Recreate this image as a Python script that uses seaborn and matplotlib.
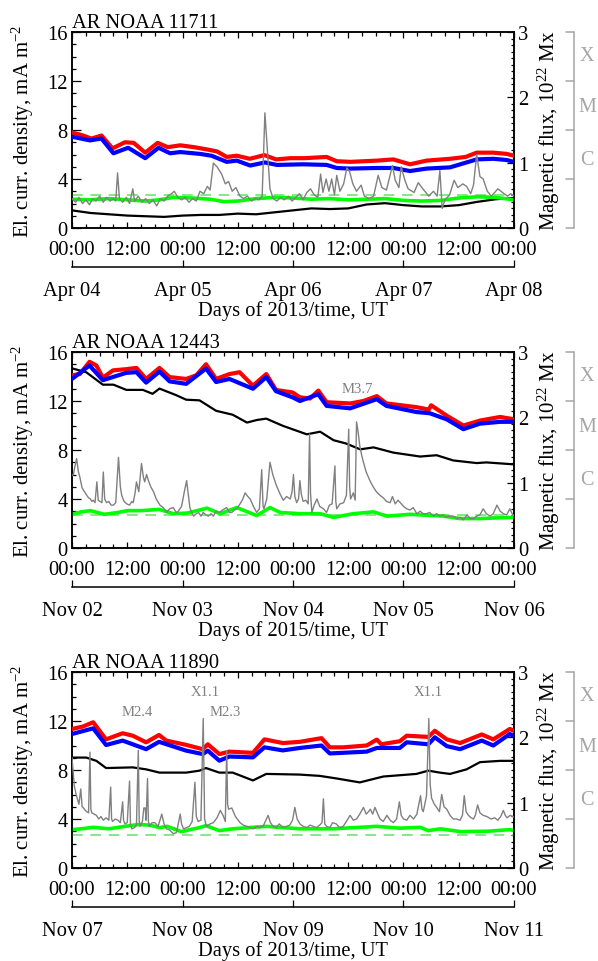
import matplotlib
matplotlib.use("Agg")
import matplotlib.pyplot as plt
import matplotlib.transforms as mtransforms
from matplotlib.ticker import MultipleLocator, FixedLocator
import pandas as pd
import seaborn as sns

# ---------------- common axis data ----------------
HOUR_TICKS = [0, 12, 24, 36, 48, 60, 72, 84, 96]
HOUR_LABELS = ["00:00", "12:00", "00:00", "12:00", "00:00", "12:00", "00:00", "12:00", "00:00"]
DAY_TICKS = [0, 24, 48, 72, 96]
GOES_LEVELS = [0, 4, 8, 12, 16]
GOES_CLASSES = ["C", "M", "X"]

# ---------------- panel 1 : AR NOAA 11711 ----------------
p1_title = "AR NOAA 11711"
p1_days = ["Apr 04", "Apr 05", "Apr 06", "Apr 07", "Apr 08"]
p1_year = "2013"
p1_red_t = [0, 2.4, 4.2, 6.4, 8.8, 11.5, 13.4, 15.9, 18.6, 20.8, 23.5, 26.5, 29.5, 31.5, 33.6, 35.8, 38.6,
            41.8, 44.3, 47.5, 50.5, 55.3, 57.5, 60.5, 66.2, 69.8, 73.4, 77.0, 82.1, 85.5, 87.9, 91.5, 94.4, 96]
p1_red = [7.8, 7.55, 7.3, 7.55, 6.5, 7.0, 6.95, 6.15, 6.95, 6.6, 6.75, 6.6, 6.4, 6.25, 5.8, 5.9, 5.65,
          5.95, 5.6, 5.7, 5.7, 5.8, 5.45, 5.4, 5.5, 5.6, 5.2, 5.5, 5.65, 5.8, 6.15, 6.15, 6.05, 5.9]
p1_blue_t = [0, 3.9, 6.4, 9.0, 12.2, 15.9, 18.8, 21.3, 23.5, 27.8, 30.3, 33.6, 35.8, 38.7, 41.9, 44.5,
             50.2, 55.3, 57.5, 60.4, 66.2, 69.8, 73.4, 77.0, 82.1, 87.9, 91.5, 94.4, 96]
p1_blue = [7.45, 7.15, 7.3, 6.1, 6.55, 5.7, 6.55, 6.1, 6.2, 6.05, 5.9, 5.4, 5.5, 5.1, 5.35, 5.15,
           5.2, 5.15, 4.9, 4.85, 4.9, 4.9, 4.65, 4.85, 4.95, 5.6, 5.65, 5.55, 5.4]
p1_green_t = [0, 4, 8, 12, 16, 19, 22, 26, 30, 33, 36, 40, 44, 48, 52, 56, 60, 64, 68, 72, 76, 80, 84, 88, 92, 96]
p1_green = [2.35, 2.3, 2.4, 2.3, 2.2, 2.3, 2.5, 2.45, 2.35, 2.15, 2.2, 2.4, 2.5, 2.45, 2.35, 2.4, 2.3,
            2.35, 2.4, 2.25, 2.2, 2.25, 2.45, 2.55, 2.5, 2.3]
p1_threshold = 2.7
p1_flux_t = [0, 4, 8, 12, 16, 20, 24, 28, 32, 36, 40, 44, 48, 52, 56, 60, 64, 68, 72, 76, 80, 84, 88, 92, 96]
p1_flux = [0.27, 0.23, 0.21, 0.19, 0.18, 0.17, 0.19, 0.2, 0.2, 0.22, 0.21, 0.24, 0.27, 0.3, 0.29, 0.3,
           0.36, 0.38, 0.35, 0.33, 0.33, 0.35, 0.4, 0.44, 0.46]
p1_goes_t = [0, 0.8, 1.5, 2.3, 3.0, 3.8, 4.5, 5.2, 6.0, 6.8, 7.5, 8.3, 9.0, 9.5, 9.9, 10.3, 11.0, 11.8, 12.5,
             13.2, 13.6, 14.4, 15.2, 16.0, 16.8, 17.6, 18.4, 19.2, 20.0, 20.8, 21.6, 22.2, 23.0, 23.8, 24.6,
             25.4, 26.2, 27.0, 27.8, 28.6, 29.4, 30.0, 30.7, 31.5, 32.5, 33.3, 34.0, 34.8, 35.6, 36.5, 37.3,
             38.1, 39.0, 39.8, 40.6, 41.3, 41.9, 42.5, 43.0, 43.7, 44.5, 45.3, 46.1, 47.0, 47.8, 48.6, 49.4,
             50.2, 51.0, 51.8, 52.6, 53.4, 54.0, 54.5, 55.2, 55.8, 56.4, 57.0, 57.5, 58.2, 59.0, 59.7, 60.3,
             61.0, 61.8, 62.8, 63.5, 64.5, 65.5, 66.5, 67.3, 68.3, 69.6, 70.2, 71.0, 71.5, 72.3, 73.0, 74.3,
             75.2, 76.2, 77.5, 78.5, 79.3, 79.9, 80.4, 81.0, 82.0, 83.0, 83.8, 84.9, 85.7, 86.6, 87.2, 87.9,
             88.6, 89.3, 90.2, 91.1, 92.5, 93.5, 94.6, 95.3, 96.0]
p1_goes = [2.4, 2.1, 2.5, 2.0, 2.3, 1.9, 2.4, 2.2, 2.6, 2.1, 2.5, 2.2, 2.4, 2.2, 4.5, 2.4, 2.1, 2.5, 2.0,
           3.2, 2.2, 2.6, 2.1, 2.4, 2.0, 2.3, 1.8, 2.4, 2.2, 2.6, 2.8, 3.0, 2.5, 2.3, 2.5,
           2.1, 2.4, 2.2, 3.0, 2.8, 3.4, 3.1, 5.3, 5.0, 4.4, 3.6, 3.8, 3.0, 3.3, 2.6, 2.4,
           2.6, 2.2, 2.4, 2.3, 2.6, 9.4, 6.0, 3.2, 2.4, 2.2, 2.5, 2.3, 2.6, 2.2, 2.5, 2.8,
           2.3, 2.9, 3.2, 2.7, 2.5, 4.4, 2.9, 4.0, 3.0, 4.0, 2.7, 4.3, 3.0, 3.6, 4.9, 4.6,
           3.6, 3.0, 3.5, 2.6, 2.4, 2.6, 4.3, 3.3, 3.1, 5.1, 3.9, 3.3, 5.0, 3.9, 3.2, 2.9,
           3.7, 3.2, 2.6, 3.0, 2.6, 4.7, 1.6, 2.3, 2.7, 3.9, 3.3, 3.6, 3.4, 2.8, 3.5, 6.0,
           4.2, 4.0, 3.0, 2.6, 3.2, 2.9, 2.6, 2.8, 2.6]
p1_flares = []
p1_flare_t = []
p1_flare_y = []

# ---------------- panel 2 : AR NOAA 12443 ----------------
p2_title = "AR NOAA 12443"
p2_days = ["Nov 02", "Nov 03", "Nov 04", "Nov 05", "Nov 06"]
p2_year = "2015"
p2_red_t = [0, 1.7, 3.8, 5.3, 6.7, 8.9, 11.8, 14.0, 16.1, 19.0, 21.2, 24.8, 27.0, 29.1, 31.3, 34.2, 36.4,
            39.3, 42.2, 44.3, 47.9, 49.5, 51.7, 53.5, 55.3, 60.4, 63.3, 66.2, 68.3, 74.8, 77.5, 78.0, 81.4,
            85.0, 88.6, 93.0, 96]
p2_red = [14.1, 14.2, 15.2, 14.9, 13.9, 14.5, 14.6, 14.7, 13.8, 14.7, 13.95, 13.8, 14.1, 15.0, 13.8, 14.2,
          14.35, 13.25, 14.2, 12.9, 12.7, 12.3, 12.2, 12.85, 11.9, 11.8, 12.0, 12.4, 11.8, 11.5, 11.3, 11.65,
          10.8, 10.0, 10.4, 10.7, 10.5]
p2_blue_t = [0, 3.8, 6.7, 11.8, 14.0, 16.1, 19.0, 21.2, 24.8, 29.1, 31.3, 34.2, 39.3, 42.2, 44.3, 47.9,
             49.5, 53.5, 55.3, 60.4, 66.2, 68.3, 74.8, 77.7, 81.4, 85.0, 88.6, 93.0, 96]
p2_blue = [13.8, 14.9, 13.7, 14.3, 14.35, 13.5, 14.4, 13.6, 13.4, 14.65, 13.55, 13.8, 13.0, 13.95, 12.8,
           12.3, 12.0, 12.55, 11.6, 11.4, 12.15, 11.6, 11.1, 11.0, 10.5, 9.7, 10.15, 10.3, 10.3]
p2_green_t = [0, 2, 4, 7, 10, 12, 15, 19, 22, 25, 29.3, 32.2, 35.8, 40.1, 43, 45.2, 49.5, 53.9, 56.8,
              61.1, 65.5, 68.4, 73.4, 80.7, 84.3, 88.6, 91.5, 96]
p2_green = [2.75, 2.95, 3.05, 2.75, 2.9, 3.05, 3.05, 3.15, 2.8, 2.85, 3.25, 2.8, 3.3, 2.65, 3.3, 2.9,
            2.8, 2.8, 2.5, 2.8, 2.95, 2.6, 2.75, 2.6, 2.4, 2.4, 2.45, 2.5]
p2_threshold = 2.7
p2_flux_t = [0, 3.1, 6.7, 9.0, 11.8, 15.4, 17.5, 19.0, 22.6, 24.8, 27.7, 31.3, 34.9, 38.0, 40.2, 42.2,
             45.8, 49.4, 51.0, 53.9, 56.8, 59.5, 62.6, 65.5, 69.8, 75.6, 79.2, 82.8, 87.9, 90.0, 96]
p2_flux = [2.75, 2.69, 2.5, 2.5, 2.42, 2.42, 2.36, 2.44, 2.34, 2.27, 2.26, 2.1, 2.04, 1.92, 1.96, 1.98,
           1.87, 1.78, 1.74, 1.78, 1.65, 1.6, 1.51, 1.54, 1.46, 1.4, 1.42, 1.34, 1.3, 1.31, 1.28]
p2_goes_t = [0.0, 0.3, 0.6, 1.0, 1.4, 1.7, 2.2, 2.7, 3.2, 3.6, 4.0, 4.3, 4.6, 5.0, 5.4, 5.7, 6.1, 6.5, 6.8,
             7.1, 7.5, 8.0, 8.5, 9.0, 9.5, 10.1, 10.5, 10.8, 11.3, 11.9, 12.5, 13.0, 13.3, 13.7, 14.0, 14.5,
             15.1, 15.5, 15.8, 16.2, 16.6, 17.1, 17.7, 18.3, 19.1, 19.8, 20.6, 21.2, 22.0, 22.6, 23.1, 23.8,
             24.4, 24.9, 25.3, 25.6, 26.0, 26.4, 27.0, 27.5, 28.0, 28.5, 29.1, 29.6, 30.2, 30.7, 31.3, 32.0,
             32.7, 33.6, 34.2, 34.7, 35.3, 35.8, 36.5, 37.1, 37.6, 38.2, 38.7, 39.4, 40.1, 40.7, 41.2, 41.5,
             41.7, 42.3, 43.0, 43.6, 44.4, 45.2, 45.9, 46.6, 47.4, 47.8, 48.1, 48.4, 48.8, 49.2, 49.5, 49.8,
             50.2, 50.8, 51.3, 51.6, 51.8, 52.1, 52.6, 53.2, 53.8, 54.6, 55.3, 55.9, 56.5, 57.1, 57.3, 57.5,
             58.2, 59.0, 59.6, 60.1, 60.3, 60.5, 61.1, 61.5, 61.8, 62.1, 62.5, 62.9, 63.3, 63.9, 64.7, 65.4,
             66.1, 66.9, 67.6, 68.3, 69.1, 69.6, 70.2, 70.8, 71.3, 72.0, 72.7, 73.4, 74.1, 74.9, 75.6, 76.3,
             77.0, 77.7, 78.5, 79.2, 79.9, 80.6, 81.3, 82.0, 82.8, 83.5, 84.3, 85.0, 85.8, 86.5, 87.2, 87.9,
             88.6, 89.3, 90.0, 90.8, 91.5, 92.3, 93.0, 93.7, 94.4, 95.1, 95.6, 96.0]
p2_goes = [5.9, 6.0, 6.6, 7.3, 6.2, 5.8, 4.9, 4.6, 4.3, 4.1, 4.0, 3.8, 3.9, 3.7, 5.4, 3.9, 3.8, 3.7, 6.2,
           4.0, 3.7, 3.8, 3.5, 3.5, 3.7, 7.4, 5.0, 4.3, 3.8, 3.6, 3.5, 3.8, 3.7, 4.5, 5.4, 4.6,
           6.9, 5.8, 5.4, 6.0, 5.5, 5.0, 4.6, 4.0, 3.5, 3.3, 2.9, 3.2, 3.3, 2.9, 3.0, 3.4,
           4.6, 5.5, 4.2, 3.3, 2.9, 2.6, 2.8, 2.9, 2.6, 2.9, 2.7, 2.6, 2.8, 2.6, 3.0, 2.9,
           3.1, 3.3, 2.9, 2.9, 3.1, 3.2, 3.6, 4.0, 4.5, 4.2, 4.0, 3.4, 2.9, 3.2, 6.4, 3.4,
           3.2, 4.0, 7.0, 6.0, 5.1, 4.4, 3.9, 4.2, 4.0, 4.6, 6.0, 4.2, 3.7, 4.0, 5.5, 4.4,
           3.8, 3.9, 3.6, 9.3, 4.5, 2.9, 3.5, 4.0, 3.4, 3.2, 2.9, 3.5, 3.6, 6.7, 3.8, 3.2,
           3.6, 3.7, 4.3, 9.7, 5.0, 4.0, 4.5, 3.9, 10.3, 9.6, 8.35, 7.6, 7.0, 6.2, 5.5, 5.0,
           4.6, 4.3, 4.1, 3.8, 3.7, 4.2, 3.6, 3.9, 3.7, 3.4, 3.2, 3.1, 3.3, 2.8, 3.0, 2.8,
           2.8, 2.9, 2.6, 2.8, 2.6, 2.7, 2.5, 2.6, 2.6, 2.4, 2.5, 2.3, 2.7, 2.4, 2.4, 2.6,
           2.7, 3.2, 2.8, 2.6, 2.8, 3.5, 3.0, 2.8, 2.7, 3.2, 2.8, 2.6]
p2_flares = ["M3.7"]
p2_flare_t = [61.9]
p2_flare_y = [13.0]

# ---------------- panel 3 : AR NOAA 11890 ----------------
p3_title = "AR NOAA 11890"
p3_days = ["Nov 07", "Nov 08", "Nov 09", "Nov 10", "Nov 11"]
p3_year = "2013"
p3_red_t = [0, 2.4, 4.6, 7.4, 11.0, 13.2, 16.1, 18.9, 20.5, 24.8, 28.4, 29.5, 32.0, 34.2, 39.3, 41.8,
            45.8, 49.5, 54.2, 56.0, 58.9, 64.0, 66.2, 67.2, 71.2, 72.7, 77.4, 78.8, 81.4, 84.3, 89.0, 91.5,
            95.1, 96]
p3_red = [11.35, 11.55, 11.9, 10.5, 11.0, 10.8, 10.26, 10.86, 10.4, 10.05, 9.7, 10.1, 9.3, 9.5, 9.4, 10.5,
          10.2, 10.3, 10.6, 9.85, 9.85, 10.0, 10.48, 10.1, 10.35, 10.8, 10.7, 11.2, 10.5, 10.2, 10.9, 10.5,
          11.35, 11.2]
p3_blue_t = [0, 4.6, 7.4, 11.0, 16.1, 18.9, 24.8, 28.4, 29.5, 32.0, 34.2, 39.3, 41.8, 45.8, 49.5, 54.2,
             56.0, 64.0, 66.2, 71.2, 72.7, 77.4, 78.8, 81.4, 84.3, 89.0, 91.5, 95.1, 96]
p3_blue = [10.94, 11.4, 10.04, 10.4, 9.7, 10.3, 9.58, 9.3, 9.58, 8.76, 9.1, 9.03, 9.85, 9.6, 9.8, 10.0,
           9.35, 9.5, 9.8, 9.8, 10.26, 10.1, 10.67, 9.95, 9.7, 10.4, 10.0, 10.94, 10.75]
p3_green_t = [0, 2, 4.6, 8, 11.5, 14.4, 16.9, 19, 20.7, 23.7, 27.7, 29.1, 32.0, 34.9, 39.3, 42.2, 49.5,
              56.7, 66.2, 71.2, 75.6, 77.4, 80, 84.3, 90.1, 95.1, 96]
p3_green = [3.13, 3.2, 3.32, 3.2, 3.4, 3.55, 3.5, 3.3, 3.4, 2.97, 3.3, 3.46, 3.05, 3.2, 3.32, 3.4, 3.2,
            3.2, 3.4, 3.25, 3.32, 3.05, 3.2, 2.97, 3.0, 3.13, 3.05]
p3_threshold = 2.7
p3_flux_t = [0, 3.1, 5.3, 7.4, 13.2, 16.1, 19.0, 24.8, 27.7, 29.1, 32.0, 34.9, 39.3, 42.2, 49.4, 53.8,
             57.5, 62.5, 67.6, 74.8, 77.4, 79.9, 82.1, 85.7, 88.6, 93.0, 96]
p3_flux = [1.69, 1.69, 1.64, 1.53, 1.54, 1.51, 1.46, 1.46, 1.49, 1.53, 1.46, 1.46, 1.34, 1.44, 1.43, 1.41,
           1.37, 1.31, 1.4, 1.44, 1.49, 1.46, 1.44, 1.51, 1.62, 1.64, 1.64]
p3_goes_t = [0.0, 0.3, 0.5, 0.9, 1.2, 1.5, 1.9, 2.2, 2.5, 2.9, 3.2, 3.6, 3.9, 4.1, 4.3, 4.8, 5.3, 5.8, 6.3,
             6.8, 7.4, 8.0, 8.4, 8.6, 8.8, 9.4, 10.0, 10.5, 11.0, 11.2, 11.5, 12.0, 12.5, 12.7, 13.0, 13.6,
             14.0, 14.4, 14.6, 14.8, 15.3, 15.6, 15.9, 16.1, 16.4, 16.6, 16.8, 17.4, 18.0, 18.7, 19.5, 20.0,
             20.5, 21.2, 22.0, 22.7, 23.5, 23.8, 24.2, 24.9, 25.5, 26.1, 26.7, 27.0, 27.4, 28.0, 28.5, 28.8,
             29.2, 30.0, 30.7, 31.5, 32.2, 32.8, 33.3, 33.6, 33.8, 34.0, 34.7, 35.5, 36.5, 37.2, 38.0, 38.7,
             39.4, 40.1, 40.8, 41.5, 42.0, 42.6, 43.1, 43.7, 44.4, 45.0, 45.8, 46.6, 47.3, 47.9, 48.4, 48.9,
             49.5, 50.2, 51.0, 51.7, 52.4, 53.1, 53.8, 54.3, 54.6, 54.9, 55.3, 56.0, 56.6, 57.4, 58.1, 58.9,
             59.6, 60.4, 61.1, 61.8, 62.5, 63.3, 63.9, 64.4, 64.8, 65.3, 65.8, 66.3, 66.9, 67.6, 68.4, 69.1,
             69.8, 70.5, 71.1, 71.5, 72.0, 72.7, 73.4, 74.2, 74.9, 75.7, 76.0, 76.3, 77.0, 77.5, 77.8, 78.1,
             78.7, 79.2, 79.8, 80.3, 80.8, 81.4, 82.1, 82.8, 83.5, 84.3, 84.8, 85.2, 85.6, 86.1, 86.7, 87.2,
             87.6, 88.1, 88.6, 89.3, 90.1, 91.0, 91.8, 92.5, 93.1, 93.7, 94.1, 94.5, 95.2, 96.0]
p3_goes = [9.0, 7.6, 6.7, 6.0, 5.6, 5.2, 6.45, 5.0, 4.9, 4.7, 4.6, 4.5, 9.45, 4.8, 4.5, 4.4, 4.3, 4.0, 4.2,
           3.9, 4.1, 3.9, 6.6, 4.0, 3.8, 4.0, 3.9, 3.7, 5.4, 3.9, 3.6, 3.7, 7.1, 3.6, 3.2, 3.3,
           3.5, 9.6, 3.8, 3.4, 3.8, 4.9, 4.9, 3.9, 7.3, 3.8, 3.4, 3.7, 3.7, 3.4, 4.4, 3.6,
           3.2, 3.1, 2.8, 2.9, 4.4, 3.6, 3.2, 3.3, 3.4, 3.8, 7.0, 4.2, 3.8, 3.9, 12.2, 4.0,
           3.4, 3.6, 3.7, 4.1, 4.7, 4.3, 3.8, 9.6, 5.2, 4.8, 4.9, 4.2, 3.7, 3.5, 3.4, 3.3,
           3.2, 3.4, 3.3, 3.4, 3.8, 4.3, 3.7, 3.4, 3.3, 3.6, 3.3, 3.4, 3.5, 3.9, 4.95, 4.0,
           3.6, 3.4, 3.3, 3.5, 3.4, 3.3, 3.5, 3.7, 5.65, 3.6, 3.4, 3.3, 3.7, 3.6, 3.3, 3.4,
           3.8, 4.3, 3.9, 4.0, 4.4, 4.95, 4.4, 4.6, 4.8, 4.4, 4.95, 4.5, 4.0, 3.8, 4.3, 3.9,
           3.7, 4.0, 5.4, 4.3, 4.0, 3.9, 4.3, 4.0, 4.4, 5.9, 4.8, 4.6, 5.9, 12.2, 6.8, 5.7,
           5.2, 4.95, 4.6, 6.0, 5.0, 4.8, 4.3, 4.0, 4.0, 3.9, 4.3, 5.9, 4.6, 4.3, 4.1, 4.0,
           4.3, 5.15, 4.5, 4.3, 4.2, 4.0, 4.1, 3.9, 4.2, 4.7, 4.3, 4.1, 4.3, 4.15]
p3_flares = ["M2.4", "X1.1", "M2.3", "X1.1"]
p3_flare_t = [14.1, 28.9, 33.2, 77.3]
p3_flare_y = [12.76, 14.4, 12.76, 14.4]

PANELS = [
    dict(title=p1_title, days=p1_days, year=p1_year, red=(p1_red_t, p1_red), blue=(p1_blue_t, p1_blue),
         green=(p1_green_t, p1_green), thr=p1_threshold, flux=(p1_flux_t, p1_flux), goes=(p1_goes_t, p1_goes),
         flares=(p1_flares, p1_flare_t, p1_flare_y)),
    dict(title=p2_title, days=p2_days, year=p2_year, red=(p2_red_t, p2_red), blue=(p2_blue_t, p2_blue),
         green=(p2_green_t, p2_green), thr=p2_threshold, flux=(p2_flux_t, p2_flux), goes=(p2_goes_t, p2_goes),
         flares=(p2_flares, p2_flare_t, p2_flare_y)),
    dict(title=p3_title, days=p3_days, year=p3_year, red=(p3_red_t, p3_red), blue=(p3_blue_t, p3_blue),
         green=(p3_green_t, p3_green), thr=p3_threshold, flux=(p3_flux_t, p3_flux), goes=(p3_goes_t, p3_goes),
         flares=(p3_flares, p3_flare_t, p3_flare_y)),
]

# ---------------- style ----------------
sns.set_theme(style="ticks")
plt.rcParams["font.family"] = ["Liberation Serif", "DejaVu Serif"]
plt.rcParams["mathtext.fontset"] = "custom"
plt.rcParams["mathtext.rm"] = "Liberation Serif"
plt.rcParams["mathtext.it"] = "Liberation Serif:italic"
plt.rcParams["mathtext.bf"] = "Liberation Serif:bold"
for k in ["axes.edgecolor", "xtick.color", "ytick.color", "text.color", "axes.labelcolor"]:
    plt.rcParams[k] = "black"
plt.rcParams["axes.linewidth"] = 1.1

FS = 14.8
GREY_BRACKET = "#a6a6a6"
GREY_LINE = "#808080"

fig = plt.figure(figsize=(5.98, 9.62), dpi=100, facecolor="white")
ax_left, ax_w, ax_h = 72 / 598, 442 / 598, 196 / 962
bottoms = [1 - 229 / 962, 1 - 549 / 962, 1 - 869 / 962]


def line(ax, series, **kw):
    t, v = series
    df = pd.DataFrame({"t": t, "v": v})
    sns.lineplot(data=df, x="t", y="v", ax=ax, estimator=None, sort=False, **kw)


for p, b in zip(PANELS, bottoms):
    ax = fig.add_axes([ax_left, b, ax_w, ax_h])
    ax2 = ax.twinx()
    ax.set_zorder(ax2.get_zorder() + 1)
    ax.patch.set_visible(False)
    ax2.patch.set_visible(False)

    thr = p["thr"]
    line(ax, ([0, 96], [thr, thr]), color="#66e066", lw=1.1, dashes=(7, 5), zorder=1)
    line(ax, p["green"], color="#00ff00", lw=2.6, zorder=2)
    line(ax, p["red"], color="#ff0000", lw=3.0, zorder=3)
    line(ax, p["blue"], color="#0000ff", lw=3.0, zorder=4)
    line(ax, p["goes"], color=GREY_LINE, lw=1.0, zorder=5)
    line(ax2, p["flux"], color="black", lw=1.6)

    ax.set_xlim(0, 96)
    ax.set_ylim(0, 16)
    ax2.set_ylim(0, 3)

    # x axis (time of day)
    ax.xaxis.set_major_locator(FixedLocator(HOUR_TICKS))
    ax.set_xticklabels(HOUR_LABELS)
    ax.xaxis.set_minor_locator(MultipleLocator(3))
    ax.tick_params(axis="x", which="both", direction="in", top=True, bottom=True, labelsize=FS, pad=8.5)
    ax.tick_params(axis="x", which="major", length=4.5, width=0.9)
    ax.tick_params(axis="x", which="minor", length=3.0, width=0.9)
    ax.set_xlabel("")

    # left y axis
    ax.yaxis.set_major_locator(FixedLocator(GOES_LEVELS))
    ax.yaxis.set_minor_locator(MultipleLocator(1))
    ax.tick_params(axis="y", which="both", direction="in", left=True, right=False, labelsize=FS, pad=3)
    ax.tick_params(axis="y", which="major", length=6.5, width=0.9)
    ax.tick_params(axis="y", which="minor", length=3.2, width=0.9)
    ax.set_ylabel("El. curr. density, mA m$^{-2}$", fontsize=15, va="center")
    ax.yaxis.set_label_coords(-49 / 442, 0.5)

    # right y axis (magnetic flux)
    ax2.yaxis.set_major_locator(MultipleLocator(1))
    ax2.yaxis.set_minor_locator(MultipleLocator(0.1))
    ax2.tick_params(axis="y", which="both", direction="in", right=True, left=False, labelsize=FS, pad=3)
    ax2.tick_params(axis="y", which="major", length=5, width=0.9)
    ax2.tick_params(axis="y", which="minor", length=2.5, width=0.9)
    ax2.set_ylabel("Magnetic flux, 10$^{22}$ Mx", fontsize=15, va="center", rotation=90)
    ax2.yaxis.set_label_coords(477 / 442, 0.5)
    ax2.set_xlabel("")

    ax.set_title(p["title"], loc="left", fontsize=FS, pad=3.4)

    # secondary date axis
    sec = ax.secondary_xaxis(-39 / 196)
    sec.set_xticks(DAY_TICKS)
    sec.set_xticklabels(p["days"])
    sec.tick_params(axis="x", direction="in", length=5, width=0.9, labelsize=FS, pad=10)
    sec.spines["bottom"].set_linewidth(1.1)
    sec.set_xlabel(f"Days of {p['year']}/time, UT", fontsize=FS, labelpad=0.5)

    # GOES class bracket
    tr = mtransforms.blended_transform_factory(ax.transAxes, ax.transData)
    ax.plot([502 / 442, 502 / 442], [GOES_LEVELS[0], GOES_LEVELS[-1]], color=GREY_BRACKET, lw=1.1,
            transform=tr, clip_on=False)
    for lv in GOES_LEVELS:
        ax.plot([494 / 442, 502 / 442], [lv, lv], color=GREY_BRACKET, lw=1.1, transform=tr, clip_on=False)
    for cls, ypos in zip(GOES_CLASSES, [5.6, 9.9, 14.05]):
        ax.text(515 / 442, ypos, cls, transform=tr, color=GREY_BRACKET, fontsize=14.5,
                ha="center", va="center")

    # flare labels
    for name, ft, fy in zip(*p["flares"]):
        ax.text(ft, fy, name, color=GREY_LINE, fontsize=10.5, ha="center", va="center", zorder=6)

fig.savefig("out.png", dpi=100, facecolor="white")
